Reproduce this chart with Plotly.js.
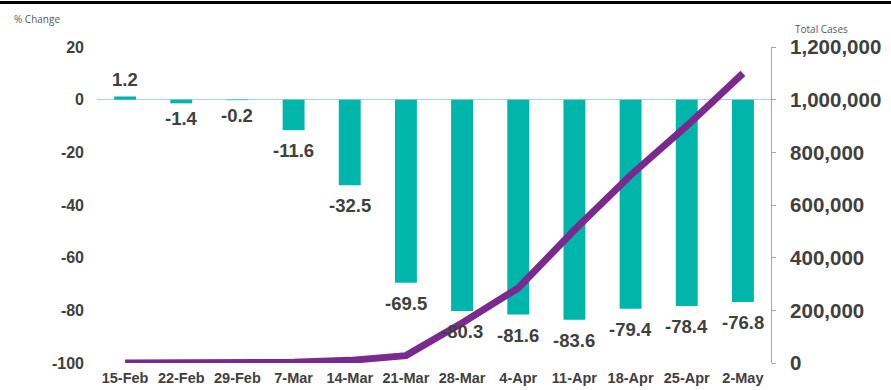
<!DOCTYPE html>
<html>
<head>
<meta charset="utf-8">
<script src="https://cdn.plot.ly/plotly-3.0.1.min.js"></script>
<style>html,body{margin:0;padding:0;background:#fff;}#chart{width:891px;height:390px;}</style>
</head>
<body>
<div id="chart"></div>
<script>
var weeks = ['15-Feb','22-Feb','29-Feb','7-Mar','14-Mar','21-Mar','28-Mar','4-Apr','11-Apr','18-Apr','25-Apr','2-May'];
var pctChange = [1.2, -1.4, -0.2, -11.6, -32.5, -69.5, -80.3, -81.6, -83.6, -79.4, -78.4, -76.8];
var totalCases = [0, 0, 1000, 3000, 10000, 28000, 152000, 285000, 505000, 713000, 900000, 1100000];
var leftTicks = [20, 0, -20, -40, -60, -80, -100];
var rightTicks = [0, 200000, 400000, 600000, 800000, 1000000, 1200000];

var txt = '#404040';
var barTrace = {
  type: 'bar', x: weeks, y: pctChange, yaxis: 'y',
  marker: {color: '#00B5A9'}, width: 0.39, hoverinfo: 'none'
};
var lineTrace = {
  type: 'scatter', mode: 'lines', x: weeks, y: totalCases, yaxis: 'y2',
  line: {color: '#7A2A8E', width: 7}, hoverinfo: 'none'
};

var annotations = pctChange.map(function(v, i){
  var neg = v < 0;
  var off = Math.abs(v) < 5 ? 3 : 8;
  return {
    x: weeks[i], y: v, xref: 'x', yref: 'y',
    text: v.toFixed(1), showarrow: false,
    yanchor: neg ? 'top' : 'bottom', yshift: neg ? -off : 5,
    font: {family: 'Liberation Sans, Arial, sans-serif', size: 18.5, color: txt, weight: 'bold'}
  };
});
annotations.push({
  xref: 'paper', yref: 'paper', x: -97/674 + 12/674, y: (363-19)/316, xanchor: 'left', yanchor: 'middle',
  text: '% Change', showarrow: false, font: {family: 'Open Sans, sans-serif', size: 10, color: '#595959'}
});
annotations.push({
  xref: 'paper', yref: 'paper', x: (822-97)/674, y: (363-29)/316, xanchor: 'center', yanchor: 'middle',
  text: 'Total Cases', showarrow: false, font: {family: 'Open Sans, sans-serif', size: 10, color: '#595959'}
});

var layout = {
  width: 891, height: 390,
  margin: {l: 97, r: 120, t: 47, b: 27},
  paper_bgcolor: '#fff', plot_bgcolor: '#fff',
  showlegend: false,
  xaxis: {
    type: 'category', showgrid: false, showline: false, zeroline: false, ticks: '',
    tickfont: {family: 'Liberation Sans, Arial, sans-serif', size: 14.5, color: txt, weight: 'bold'},
    ticklabelstandoff: 4
  },
  yaxis: {
    range: [-100, 20], tickvals: leftTicks, ticktext: leftTicks.map(String),
    showgrid: false, showline: false, ticks: '',
    zeroline: true, zerolinecolor: '#A8D2E6', zerolinewidth: 1,
    tickfont: {family: 'Liberation Sans, Arial, sans-serif', size: 16, color: txt, weight: 'bold'},
    ticklabelstandoff: 12
  },
  yaxis2: {
    range: [0, 1200000], overlaying: 'y', side: 'right',
    tickvals: rightTicks, ticktext: rightTicks.map(function(v){return v.toLocaleString('en-US');}),
    showgrid: false, zeroline: false,
    showline: true, linecolor: '#A6A6A6', linewidth: 1,
    ticks: 'outside', ticklen: 4, tickcolor: '#A6A6A6',
    tickfont: {family: 'Liberation Sans, Arial, sans-serif', size: 20.5, color: txt, weight: 'bold'},
    ticklabelstandoff: 10
  },
  shapes: [{
    type: 'line', xref: 'paper', yref: 'paper',
    x0: -97/674, x1: (891-97)/674, y0: (363-2.5)/316, y1: (363-2.5)/316,
    line: {color: '#000', width: 3}
  }],
  annotations: annotations
};

Plotly.newPlot('chart', [barTrace, lineTrace], layout, {displayModeBar: false, staticPlot: true});
</script>
</body>
</html>
